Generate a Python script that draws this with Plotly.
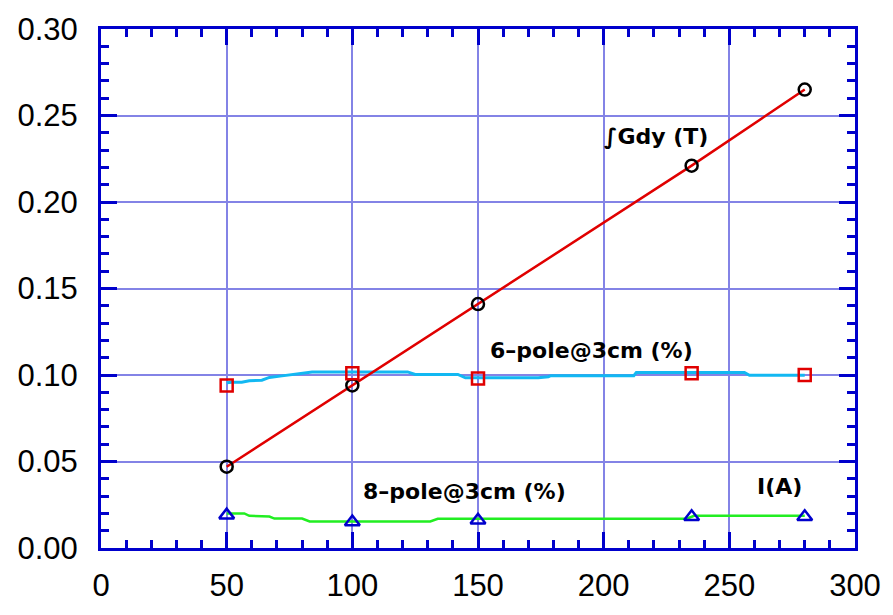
import plotly.graph_objects as go

# Measured points (current in A on the x axis)
current = [50, 100, 150, 235, 280]
grad_integral = [0.047, 0.094, 0.141, 0.221, 0.265]      # ∫Gdy (T)
sextupole_pts = [0.094, 0.101, 0.098, 0.101, 0.100]      # 6-pole@3cm (%)
octupole_pts = [0.019, 0.015, 0.016, 0.018, 0.018]       # 8-pole@3cm (%)

# Continuous harmonic curves
sextupole_x = [50, 52, 56, 59, 64, 67, 72, 84, 122, 125, 142, 145, 174, 178, 179, 212, 213, 256, 258, 280]
sextupole_y = [0.0955, 0.0958, 0.0958, 0.0967, 0.0970, 0.0986, 0.0995, 0.1018, 0.1018, 0.1003,
               0.1003, 0.0984, 0.0984, 0.0990, 0.0996, 0.0996, 0.1015, 0.1015, 0.0998, 0.0998]
octupole_x = [50, 57, 59, 67, 69, 80, 83, 131, 134, 233, 236, 280]
octupole_y = [0.0200, 0.0200, 0.0186, 0.0182, 0.0170, 0.0170, 0.0153, 0.0153, 0.0169, 0.0169, 0.0186, 0.0186]

x_ticks = [0, 50, 100, 150, 200, 250, 300]
y_ticks = [0.00, 0.05, 0.10, 0.15, 0.20, 0.25, 0.30]

labels = [
    ("∫Gdy (T)", 221, 0.238),
    ("6–pole@3cm (%)", 195, 0.114),
    ("8–pole@3cm (%)", 144.5, 0.0324),
    ("I(A)", 270, 0.0358),
]

AXIS = "#0000cc"
GRID = "#8383e6"

fig = go.Figure()
fig.add_trace(go.Scatter(x=octupole_x, y=octupole_y, mode="lines",
                         line=dict(color="#22ee22", width=2.5), hoverinfo="skip"))
fig.add_trace(go.Scatter(x=sextupole_x, y=sextupole_y, mode="lines",
                         line=dict(color="#12b8f2", width=3), hoverinfo="skip"))
fig.add_trace(go.Scatter(x=current, y=grad_integral, mode="lines",
                         line=dict(color="#e00000", width=2.5)))
fig.add_trace(go.Scatter(x=current, y=grad_integral, mode="markers",
                         marker=dict(symbol="circle-open", size=12, color="black",
                                     line=dict(width=2.5, color="black"))))
fig.add_trace(go.Scatter(x=current, y=sextupole_pts, mode="markers",
                         marker=dict(symbol="square-open", size=12, color="#e00000",
                                     line=dict(width=2.5, color="#e00000"))))
fig.add_trace(go.Scatter(x=current, y=octupole_pts, mode="markers",
                         marker=dict(symbol="triangle-up-open", size=13, color=AXIS,
                                     line=dict(width=2.5, color=AXIS))))

for text, x, y in labels:
    fig.add_annotation(x=x, y=y, text=f"<b>{text}</b>", showarrow=False,
                       font=dict(family="DejaVu Sans", size=22, color="black"))

axis_common = dict(
    showline=True, linecolor=AXIS, linewidth=3, mirror="allticks",
    ticks="inside", ticklen=16, tickwidth=3, tickcolor=AXIS,
    showgrid=True, gridcolor=GRID, gridwidth=2, zeroline=False,
    tickfont=dict(family="Liberation Sans", size=31, color="black"),
)

fig.update_xaxes(range=[0, 300], tickvals=x_ticks, ticktext=[str(v) for v in x_ticks],
                 minor=dict(dtick=10, ticks="inside", ticklen=8, tickwidth=3,
                            tickcolor=AXIS, showgrid=False),
                 ticklabelstandoff=8, **axis_common)
fig.update_yaxes(range=[0, 0.30], tickvals=y_ticks, ticktext=[f"{v:.2f}" for v in y_ticks],
                 minor=dict(dtick=0.01, ticks="inside", ticklen=8, tickwidth=3,
                            tickcolor=AXIS, showgrid=False),
                 ticklabelstandoff=14, **axis_common)

fig.update_layout(
    width=893, height=615,
    margin=dict(l=101, r=34, t=23, b=63),
    plot_bgcolor="white", paper_bgcolor="white",
    showlegend=False,
)

fig.write_html("out.html")
